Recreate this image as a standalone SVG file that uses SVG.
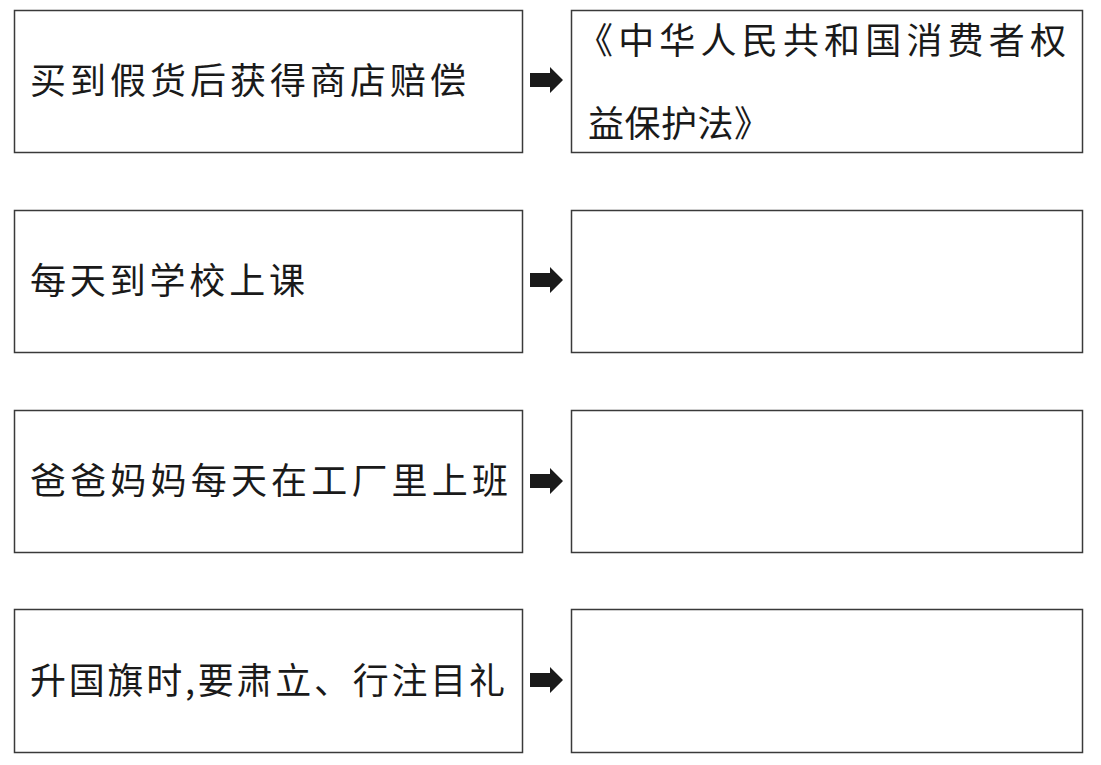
<svg xmlns="http://www.w3.org/2000/svg" width="1101" height="765" viewBox="0 0 1101 765">
<style>
.box{fill:#fff;stroke:#3a3a3a;stroke-width:1.5}
.t{font-family:"Noto Sans CJK SC","Noto Sans CJK TC",sans-serif;font-size:36px;fill:#1a1a1a}
.arr{fill:#1a1a1a}
</style>
<defs>
<path id="arrow" d="M0,-7 L20,-7 L20,-13 L33,0 L20,13 L20,7 L0,7 Z"/>
</defs>
<rect width="1101" height="765" fill="#fff"/>
<g id="left1"><rect class="box" x="14.5" y="10.5" width="508" height="142"/><text class="t" x="30" y="94" textLength="436" lengthAdjust="spacing">买到假货后获得商店赔偿</text></g>
<g id="right1"><rect class="box" x="571.5" y="10.5" width="511" height="142"/><text class="t" x="577" y="54" textLength="489" lengthAdjust="spacing">《中华人民共和国消费者权</text><text class="t" x="588" y="137" textLength="182" lengthAdjust="spacing">益保护法》</text></g>
<g id="left2"><rect class="box" x="14.5" y="210.5" width="508" height="142"/><text class="t" x="30" y="294" textLength="275" lengthAdjust="spacing">每天到学校上课</text></g>
<g id="right2"><rect class="box" x="571.5" y="210.5" width="511" height="142"/></g>
<g id="left3"><rect class="box" x="14.5" y="410.5" width="508" height="142"/><text class="t" x="30" y="494" textLength="478" lengthAdjust="spacing">爸爸妈妈每天在工厂里上班</text></g>
<g id="right3"><rect class="box" x="571.5" y="410.5" width="511" height="142"/></g>
<g id="left4"><rect class="box" x="14.5" y="609.5" width="508" height="143"/><text class="t" x="30" y="694" textLength="475" lengthAdjust="spacing">升国旗时,要肃立、行注目礼</text></g>
<g id="right4"><rect class="box" x="571.5" y="609.5" width="511" height="143"/></g>
<g id="connectors">
<use href="#arrow" class="arr" x="530" y="80"/>
<use href="#arrow" class="arr" x="530" y="280"/>
<use href="#arrow" class="arr" x="530" y="481"/>
<use href="#arrow" class="arr" x="530" y="680"/>
</g>
</svg>
